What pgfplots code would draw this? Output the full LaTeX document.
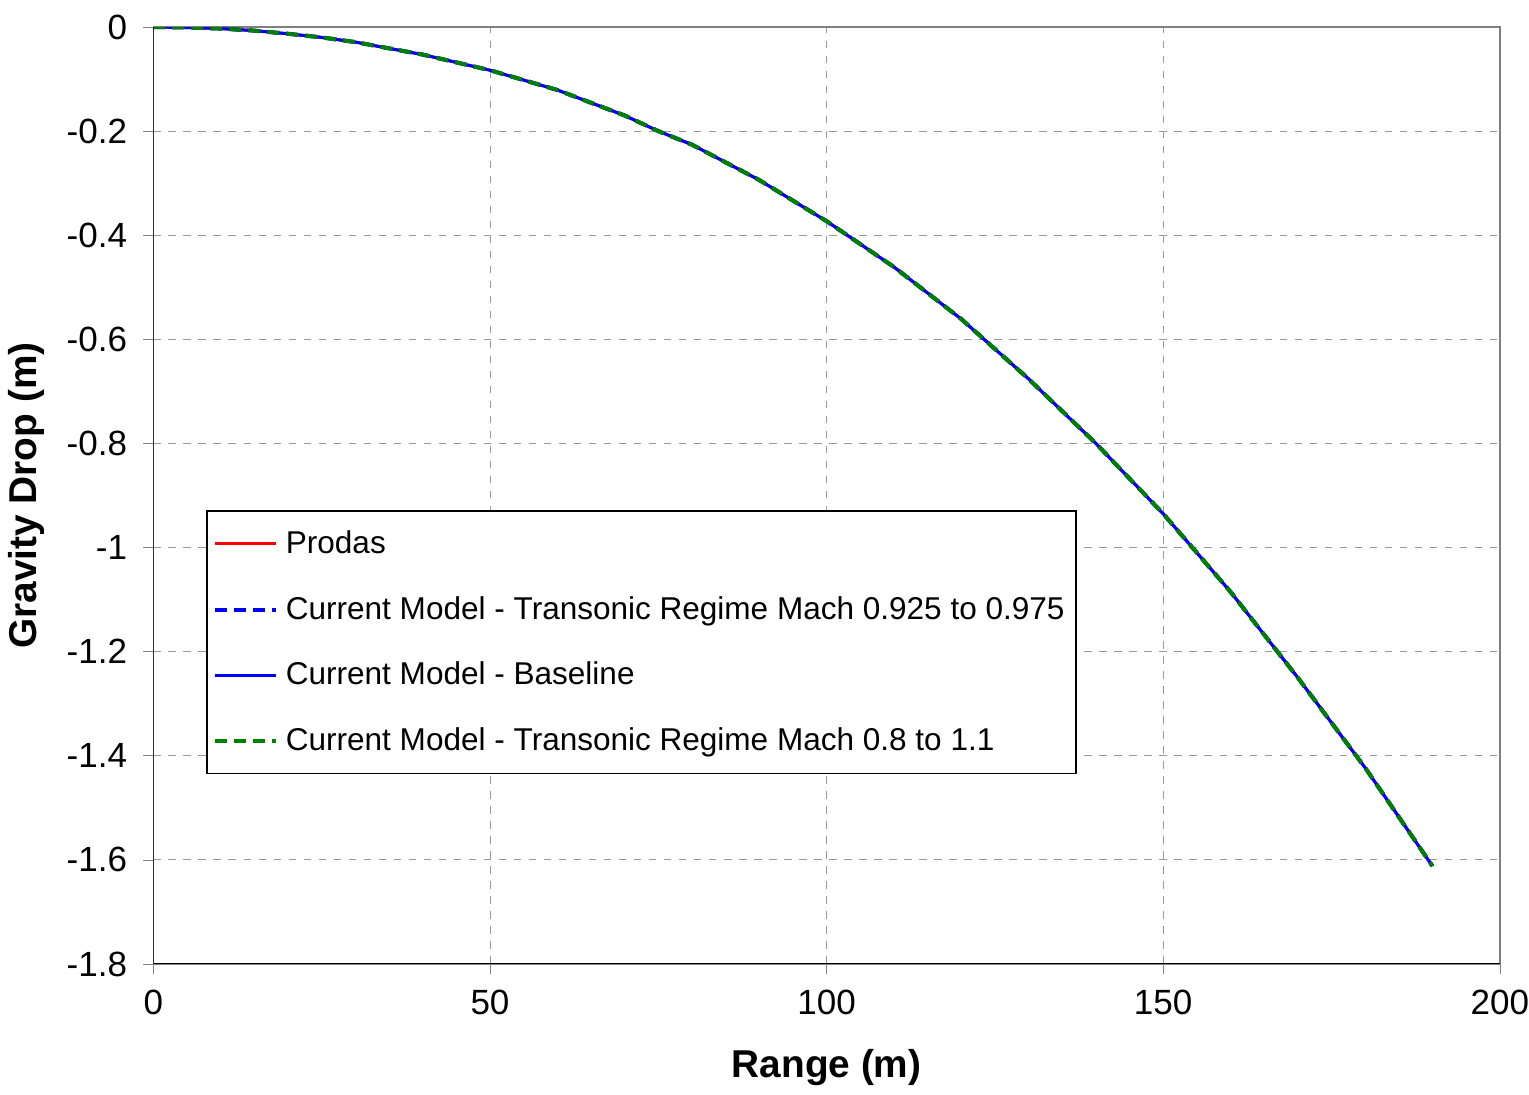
\documentclass[border=0pt]{standalone}
\usepackage{fontspec}
\setmainfont{Liberation Sans}
\usepackage{pgfplots}
\pgfplotsset{compat=1.18}
\pgfplotstableread{
x y
0 0
5 -0.001
10 -0.003
15 -0.007
20 -0.013
25 -0.020
30 -0.029
40 -0.053
50 -0.083
60 -0.121
70 -0.170
75 -0.200
80 -0.226
90 -0.294
100 -0.373
110 -0.461
120 -0.561
130 -0.676
140 -0.800
150 -0.935
160 -1.085
170 -1.250
180 -1.423
190 -1.612
}\drop
\begin{document}
\begin{tikzpicture}
\begin{axis}[
  width=538pt, height=374.4pt, scale only axis,
  xmin=0, xmax=200, ymin=-1.8, ymax=0,
  xtick={0,50,...,200}, ytick={-1.8,-1.6,...,0},
  yticklabels={-1.8,-1.6,-1.4,-1.2,-1,-0.8,-0.6,-0.4,-0.2,0},
  /pgf/number format/assume math mode=true,
  tick label style={font=\fontsize{14}{16}\selectfont},
  yticklabel style={xshift=-3pt},
  xticklabel style={yshift=-3pt, inner xsep=0pt},
  tick align=outside, xtick pos=left, ytick pos=left,
  major tick length=4pt,
  grid=major, major grid style={gray!80, dashed, line width=0.4pt},
  axis line style={gray, line width=0.6pt},
  xlabel={\textbf{Range (m)}}, ylabel={\textbf{Gravity Drop (m)}},
  label style={font=\fontsize{15.5}{18}\selectfont},
  xlabel style={yshift=-7pt},
  ylabel style={yshift=2pt},
  legend style={at={(0.0394,0.484)}, anchor=north west, draw=black, line width=0.5pt,
    font=\fontsize{12.6}{14}\selectfont, row sep=11.6pt, inner xsep=2.5pt, inner ysep=5.8pt,
    cells={anchor=west}},
  legend image code/.code={\draw[#1] (0cm,0cm) -- (0.85cm,0cm); \path (0.85cm+1.2pt,0cm);},
]
\addplot[red, line width=1.2pt] table {\drop};
\addlegendentry{Prodas}
\addplot[blue, line width=1.6pt, dash pattern=on 4.8pt off 2.8pt] table {\drop};
\addlegendentry{Current Model - Transonic Regime Mach 0.925 to 0.975}
\addplot[blue, line width=1.2pt] table {\drop};
\addlegendentry{Current Model - Baseline}
\addplot[green!50!black, line width=1.6pt, dash pattern=on 4.8pt off 2.8pt] table {\drop};
\addlegendentry{Current Model - Transonic Regime Mach 0.8 to 1.1}
\draw[black, line width=0.6pt] (rel axis cs:0,1) -- (rel axis cs:0,0) -- (rel axis cs:1,0);
\coordinate (TL) at (rel axis cs:0,1);
\end{axis}
\path (TL) ++(0pt,10.8pt) coordinate (pad);
\path (pad);
\end{tikzpicture}
\end{document}
